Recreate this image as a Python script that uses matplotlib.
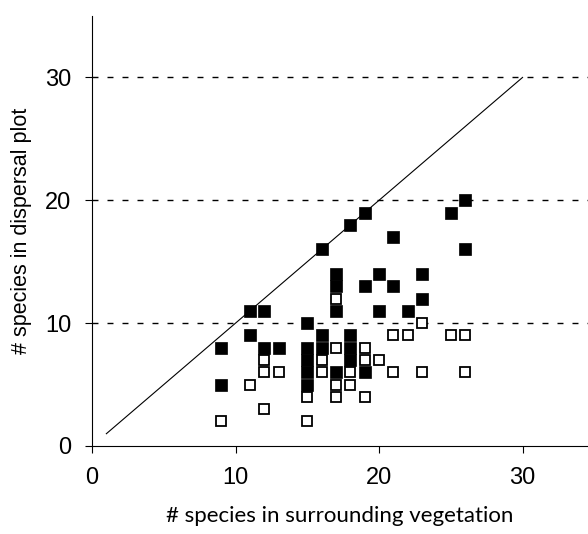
import matplotlib
matplotlib.use('Agg')
import matplotlib.pyplot as plt

# filled squares
filled_x = [9, 9, 11, 11, 12, 12, 13, 15, 15, 15, 15, 15, 16, 16, 16, 17, 17, 17, 17,
            18, 18, 18, 18, 19, 19, 19, 20, 20, 21, 21, 22, 23, 23, 25, 26, 26]
filled_y = [8, 5, 11, 9, 11, 8, 8, 10, 8, 7, 6, 5, 16, 9, 8, 14, 13, 11, 6,
            18, 9, 8, 7, 19, 13, 6, 14, 11, 17, 13, 11, 14, 12, 19, 20, 16]

# open squares
open_x = [9, 11, 12, 12, 12, 13, 15, 15, 16, 16, 17, 17, 17, 17, 18, 18, 19, 19, 19,
          20, 21, 21, 22, 23, 23, 25, 26, 26]
open_y = [2, 5, 7, 6, 3, 6, 4, 2, 7, 6, 12, 8, 5, 4, 6, 5, 8, 7, 4,
          7, 9, 6, 9, 10, 6, 9, 9, 6]

line_x = [1, 30]
line_y = [1, 30]

plt.rcParams['font.family'] = ['Liberation Sans', 'DejaVu Sans']

fig = plt.figure(figsize=(5.88, 5.34), dpi=100)
ax = fig.add_axes([92 / 588, 88 / 534, 496 / 588, 430 / 534])

for yv in [10, 20, 30]:
    ax.axhline(yv, color='black', lw=1.0, dashes=(4.3, 6.5), zorder=1)

ax.plot(line_x, line_y, color='black', lw=0.8, zorder=2)

ax.plot(filled_x, filled_y, 's', ms=8.6, mfc='black', mec='black', mew=0.5,
        ls='none', zorder=3)
ax.plot(open_x, open_y, 's', ms=7.8, mfc='white', mec='black', mew=1.3,
        ls='none', zorder=4)

ax.set_xlim(0, 34.56)
ax.set_ylim(0, 35)
ax.set_xticks([0, 10, 20, 30])
ax.set_yticks([0, 10, 20, 30])
ax.tick_params(direction='out', length=5, width=0.8, labelsize=17, pad=10)
ax.spines['top'].set_visible(False)
ax.spines['right'].set_visible(False)
ax.spines['left'].set_linewidth(0.8)
ax.spines['bottom'].set_linewidth(0.8)

ax.set_xlabel('# species in surrounding vegetation', fontsize=16,
              family=['Lato', 'DejaVu Sans'], labelpad=12)
ax.set_ylabel('# species in dispersal plot', fontsize=15.5, labelpad=9)

fig.savefig('out.png', dpi=100)
